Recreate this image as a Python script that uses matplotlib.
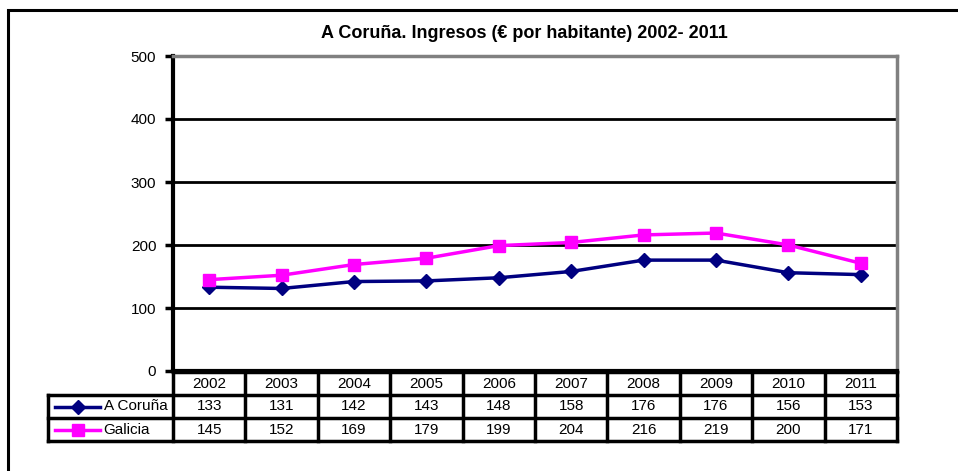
import numpy as np
import matplotlib.pyplot as plt
from matplotlib.lines import Line2D
from matplotlib.patches import Rectangle

plt.rcParams['font.family'] = ['Liberation Sans', 'DejaVu Sans']

# Data
years = ['2002', '2003', '2004', '2005', '2006', '2007', '2008', '2009', '2010', '2011']
coruna = [133, 131, 142, 143, 148, 158, 176, 176, 156, 153]
galicia = [145, 152, 169, 179, 199, 204, 216, 219, 200, 171]
series_names = ['A Coruña', 'Galicia']
colors = ['#000080', '#FF00FF']
markers = ['D', 's']
yticks = [0, 100, 200, 300, 400, 500]

W, H = 958, 471
fig = plt.figure(figsize=(W / 100, H / 100), dpi=100)


def px(x0, y0, x1, y1):
    """pixel box (top-left origin) -> figure fraction [l, b, w, h]"""
    return [x0 / W, 1 - y1 / H, (x1 - x0) / W, (y1 - y0) / H]


# outer frame
fig.patches.append(Rectangle((8 / W, -0.1), 1.2, 1 - 10 / H + 0.1, transform=fig.transFigure,
                             fill=False, edgecolor='black', linewidth=2.2))

# main plot
ax = fig.add_axes(px(173, 56, 897, 371))
x = np.arange(len(years))
ax.plot(x, coruna, color=colors[0], marker=markers[0], markersize=7, linewidth=2.5, zorder=3)
ax.plot(x, galicia, color=colors[1], marker=markers[1], markersize=9, linewidth=2.5, zorder=3)
ax.set_xlim(-0.5, len(years) - 0.5)
ax.set_ylim(0, 500)
ax.set_yticks(yticks)
ax.set_yticklabels([str(v) for v in yticks], fontsize=11)
ax.set_xticks([])
for v in yticks[1:-1]:
    ax.axhline(v, color='black', linewidth=2, zorder=1)
ax.spines['left'].set_linewidth(3)
ax.spines['bottom'].set_linewidth(3)
ax.spines['top'].set_color('#808080')
ax.spines['top'].set_linewidth(2.5)
ax.spines['right'].set_color('#808080')
ax.spines['right'].set_linewidth(2.5)
ax.tick_params(axis='y', length=6, width=2.5, pad=6)
fig.text(524 / W, 1 - 33 / H, 'A Coruña. Ingresos (€ por habitante) 2002- 2011',
         ha='center', va='center', fontsize=13, fontweight='bold')

# data table
tab = fig.add_axes(px(173, 372, 897, 441))
tab.set_xlim(-0.5, len(years) - 0.5)
tab.set_ylim(3, 0)
tab.axis('off')
rows = [coruna, galicia]
for i, yr in enumerate(years):
    tab.text(i, 0.5, yr, ha='center', va='center', fontsize=11)
    for r, vals in enumerate(rows):
        tab.text(i, r + 1.5, str(vals[i]), ha='center', va='center', fontsize=11)

lw = 2.5
lab_left = -0.5 - (173 - 48) / 72.4
# vertical lines
for k in range(len(years) + 1):
    tab.plot([k - 0.5, k - 0.5], [0, 3], color='black', lw=lw, clip_on=False, solid_capstyle='projecting')
tab.plot([lab_left, lab_left], [1, 3], color='black', lw=lw, clip_on=False, solid_capstyle='projecting')
# horizontal lines
tab.plot([-0.5, len(years) - 0.5], [0, 0], color='black', lw=lw, clip_on=False)
for r in (1, 2, 3):
    tab.plot([lab_left, len(years) - 0.5], [r, r], color='black', lw=lw, clip_on=False,
             solid_capstyle='projecting')

# legend keys in the table
for r, name in enumerate(series_names):
    yy = r + 1.5
    tab.add_line(Line2D([lab_left + 0.097, lab_left + 0.72], [yy, yy], color=colors[r], lw=2.5,
                        clip_on=False))
    tab.add_line(Line2D([lab_left + 0.41], [yy], color=colors[r], marker=markers[r],
                        markersize=7 if r == 0 else 9, clip_on=False))
    tab.text(lab_left + 0.77, yy, name, ha='left', va='center', fontsize=11)

fig.savefig('out.png', dpi=100)
